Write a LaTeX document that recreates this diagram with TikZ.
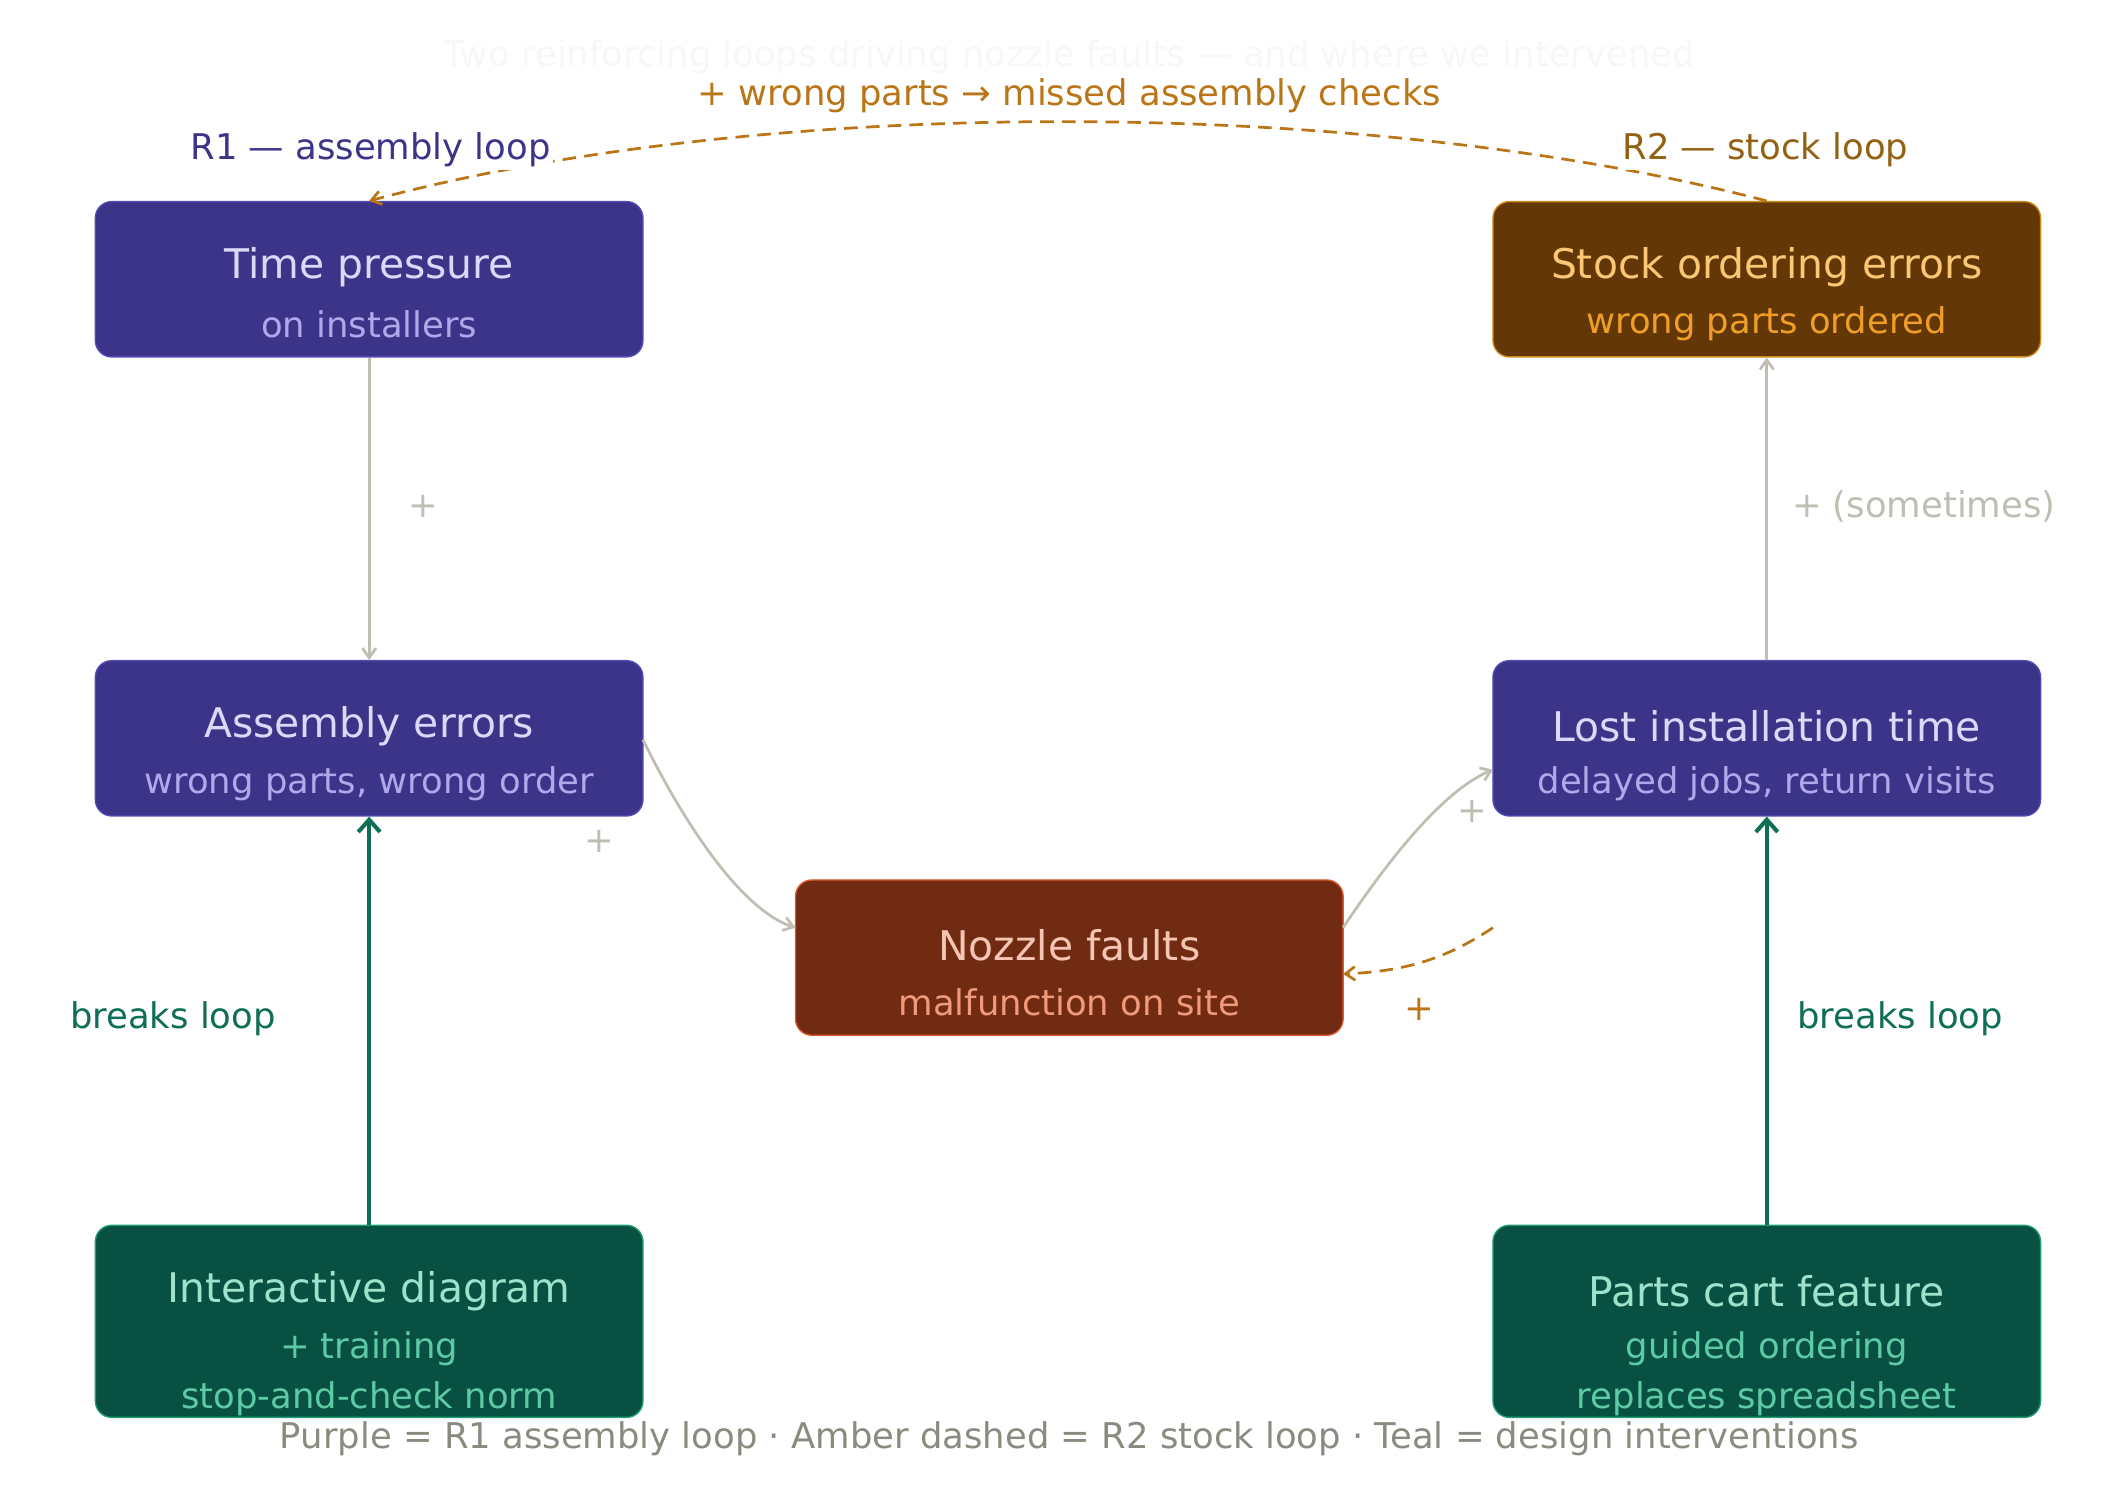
\documentclass[tikz,border=0pt]{standalone}
\usepackage{fontspec}
\setmainfont{DejaVu Sans}
\usetikzlibrary{arrows.meta}
\definecolor{pf}{HTML}{3C3489}\definecolor{ps}{HTML}{534AB7}\definecolor{pt}{HTML}{DCD8F8}\definecolor{pu}{HTML}{AFA9EC}
\definecolor{af}{HTML}{633806}\definecolor{as}{HTML}{D08A1A}\definecolor{at}{HTML}{FAC775}\definecolor{au}{HTML}{EF9F27}
\definecolor{nf}{HTML}{712B13}\definecolor{ns}{HTML}{D85A30}\definecolor{nt}{HTML}{F5C4B3}\definecolor{nu}{HTML}{F0997B}
\definecolor{tf}{HTML}{085041}\definecolor{ts}{HTML}{1D9E75}\definecolor{tt}{HTML}{9FE1CB}\definecolor{tu}{HTML}{5DCAA5}
\definecolor{gr}{HTML}{C0BDB3}\definecolor{amb}{HTML}{BA7517}\definecolor{tea}{HTML}{0F6E56}\definecolor{leg}{HTML}{8A8A80}
\begin{document}
\begin{tikzpicture}[x=1pt,y=-1pt,
 box/.style={draw=#1s,fill=#1f,rounded corners=12pt,line width=1pt,minimum width=402pt,inner sep=0pt,align=center},
 ti/.style={font=\fontsize{30}{36}\selectfont},
 su/.style={font=\fontsize{26}{37}\selectfont},
 lab/.style={font=\fontsize{26}{30}\selectfont},
 ga/.style={draw=gr,line width=2pt,-{Straight Barb[length=7pt,width=10pt]}},
 aa/.style={draw=amb,line width=2pt,dashed,dash pattern=on 10pt off 6pt,-{Straight Barb[length=7pt,width=10pt]}},
 ta/.style={draw=tea,line width=3pt,-{Straight Barb[length=9pt,width=16pt]}}]
\useasboundingbox (0,0) rectangle (1560,1101);
\node[box=p,minimum height=114pt] (tp) at (271,205) {};
\node[ti,text=pt] at (271,196) {Time pressure};\node[su,text=pu] at (271,238) {on installers};
\node[box=p,minimum height=114pt] (ae) at (271,542) {};
\node[ti,text=pt] at (271,533) {Assembly errors};\node[su,text=pu] at (271,575) {wrong parts, wrong order};
\node[box=n,minimum height=114pt] (nz) at (785,703) {};
\node[ti,text=nt] at (785,694) {Nozzle faults};\node[su,text=nu] at (785,736) {malfunction on site};
\node[box=a,minimum height=114pt] (so) at (1297,205) {};
\node[ti,text=at] at (1297,196) {Stock ordering errors};\node[su,text=au] at (1297,238) {wrong parts ordered};
\node[box=p,minimum height=114pt] (li) at (1297,542) {};
\node[ti,text=pt] at (1297,533) {Lost installation time};\node[su,text=pu] at (1297,575) {delayed jobs, return visits};
\node[box=t,minimum height=141pt] (id) at (271,970) {};
\node[ti,text=tt] at (271,948) {Interactive diagram};\node[su,text=tu] at (271,990) {+ training};\node[su,text=tu] at (271,1027) {stop-and-check norm};
\node[box=t,minimum height=141pt] (pc) at (1297,970) {};
\node[ti,text=tt] at (1297,948) {Parts cart feature};\node[su,text=tu] at (1297,990) {guided ordering};\node[su,text=tu] at (1297,1027) {replaces spreadsheet};
\coordinate (nzr) at (986,681);\coordinate (nzr2) at (986,715);\coordinate (lil) at (1096,565);\coordinate (ds) at (1096,681);
\coordinate (nzl) at (584,681);\coordinate (aer) at (472,543);
\draw[ga] (tp.south) -- (ae.north);
\node[lab,text=gr] (p1) at (311,372) {+};
\draw[ga] (aer) .. controls (510,620) and (550,670) .. (nzl);
\node[lab,text=gr] (p2) at (440,618) {+};
\draw[ga] (nzr) .. controls (1020,630) and (1060,580) .. (lil);
\node[lab,text=gr] (p3) at (1081,596) {+};
\draw[ga] (li.north) -- (so.south);
\node[lab,text=gr,anchor=west] (p4) at (1312,372) {+ (sometimes)};
\draw[aa] (ds) .. controls (1060,705) and (1030,713) .. (nzr2);
\node[lab,text=amb] (p5) at (1042,741) {+};
\draw[aa] (so.north) .. controls (1000,70) and (560,70) .. (tp.north);
\node[lab,text=amb] (p6) at (785,70) {+ wrong parts → missed assembly checks};
\node[lab,text=pf,fill=white,inner sep=2pt] (r1) at (272,110) {R1 — assembly loop};
\node[lab,text=as!70!black,fill=white,inner sep=2pt] (r2) at (1296,110) {R2 — stock loop};
\draw[ta] (id.north) -- (ae.south);
\draw[ta] (pc.north) -- (li.south);
\node[lab,text=tea] (b1) at (127,748) {breaks loop};
\node[lab,text=tea] (b2) at (1395,748) {breaks loop};
\node[lab,text=black!3] (tt) at (785,42) {Two reinforcing loops driving nozzle faults — and where we intervened};
\node[lab,text=leg] (lg) at (785,1056) {Purple = R1 assembly loop · Amber dashed = R2 stock loop · Teal = design interventions};
\end{tikzpicture}
\end{document}
